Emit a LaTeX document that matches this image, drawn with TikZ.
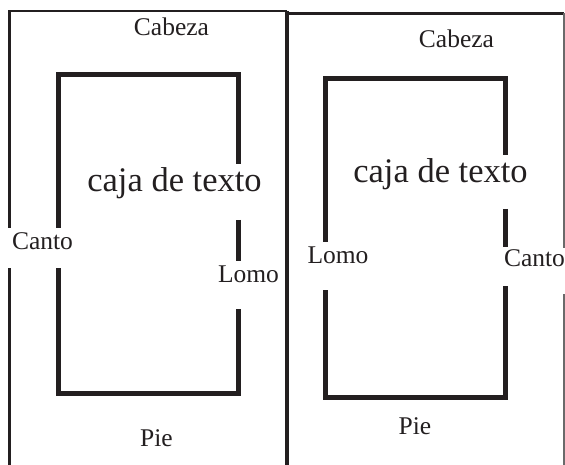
\documentclass[tikz,border=0pt]{standalone}
\usepackage{fontspec}
\setmainfont{Liberation Serif}
\definecolor{ink}{HTML}{231F20}
\definecolor{edge}{HTML}{6A6A6A}
\tikzset{
  pageline/.style={draw=ink, line width=2.5pt},
  spine/.style={draw=ink, line width=4.5pt},
  boxline/.style={draw=ink, line width=5pt, line join=miter},
  lbl/.style={text=ink, font=\fontsize{25.5}{30}\selectfont, inner sep=0pt, anchor=base},
  big/.style={text=ink, font=\fontsize{34.5}{40}\selectfont, inner sep=0pt, anchor=base}
}
\begin{document}
\begin{tikzpicture}[x=1pt, y=-1pt]
  \useasboundingbox (0,0) rectangle (565,465);

  % left page: outer margin lines
  \draw[pageline] (9.5,465) -- (9.5,268);
  \draw[pageline] (9.5,228) -- (9.5,11) -- (287,11);
  % shared spine
  \draw[spine] (287,11) -- (287,465);
  % right page: top and outer edge
  \draw[pageline, line width=3pt] (287,13.3) -- (564,13.3);
  \draw[draw=edge, line width=1.5pt] (564,13.3) -- (564,248);
  \draw[draw=edge, line width=1.5pt] (564,294) -- (564,465);

  % left page: text block
  \draw[boxline] (58,228) -- (58,75) -- (238.5,75) -- (238.5,164);
  \draw[boxline] (238.5,220) -- (238.5,261);
  \draw[boxline] (238.5,309) -- (238.5,393) -- (58,393) -- (58,268);

  % right page: text block
  \draw[boxline] (325,242) -- (325,78.5) -- (505.5,78.5) -- (505.5,155);
  \draw[boxline] (505.5,209) -- (505.5,247);
  \draw[boxline] (505.5,286) -- (505.5,397) -- (325,397) -- (325,290);

  % left page labels
  \node[lbl] (cabL)  at (171.5,36)  {Cabeza};
  \node[big] (cajaL) at (174.5,192) {caja de texto};
  \node[lbl] (cantoL) at (42.5,250) {Canto};
  \node[lbl] (lomoL) at (248.5,282) {Lomo};
  \node[lbl] (pieL)  at (156.5,446.5) {Pie};

  % right page labels
  \node[lbl] (cabR)  at (456.5,48)  {Cabeza};
  \node[big] (cajaR) at (440.5,183) {caja de texto};
  \node[lbl] (lomoR) at (338,263)   {Lomo};
  \node[lbl] (cantoR) at (534.5,266) {Canto};
  \node[lbl] (pieR)  at (415,434)   {Pie};
\end{tikzpicture}
\end{document}
